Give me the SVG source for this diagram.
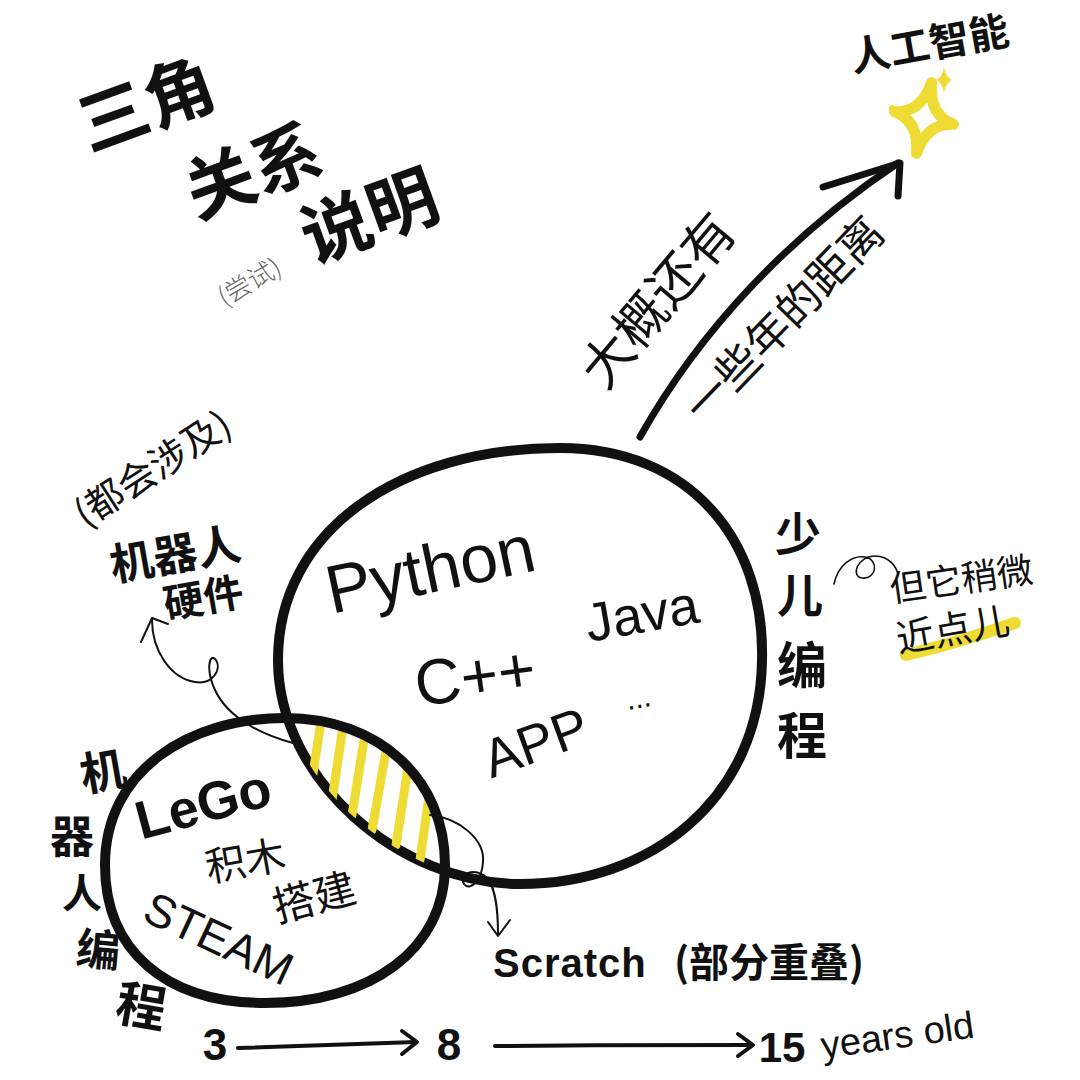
<svg xmlns="http://www.w3.org/2000/svg" width="1080" height="1080" viewBox="0 0 1080 1080">
<defs>
<style>
.cjk{font-family:"Noto Sans CJK SC","Noto Sans",sans-serif;fill:#111}
.lat{font-family:"Liberation Sans","DejaVu Sans",sans-serif;fill:#111}
.b{font-weight:700}
.thin{font-weight:300}
.ln{fill:none;stroke:#111;stroke-linecap:round;stroke-linejoin:round}
.yel{fill:none;stroke:#eedc34;stroke-linecap:round;stroke-linejoin:round}
</style>
<clipPath id="clipSmall"><path d="M 105 865 C 105 770 190 718 285 718 C 380 718 445 780 445 865 C 445 950 370 1003 265 1003 C 165 1003 105 950 105 865 Z"/></clipPath>
<clipPath id="clipBig"><path d="M 278 660 C 278 530 400 448 560 448 C 690 448 765 540 762 660 C 760 800 650 884 520 884 C 400 884 278 780 278 660 Z"/></clipPath>
</defs>
<rect width="1080" height="1080" fill="#ffffff"/>

<g id="title">
<text class="cjk b" font-size="70" text-anchor="middle" transform="translate(155,128) rotate(-20)">三角</text>
<text class="cjk b" font-size="70" text-anchor="middle" transform="translate(262,195) rotate(-20)">关系</text>
<text class="cjk b" font-size="70" text-anchor="middle" transform="translate(378,240) rotate(-20)">说明</text>
<text class="cjk thin" font-size="26" style="fill:#666" text-anchor="middle" transform="translate(254,290) rotate(-30)">(尝试)</text>
</g>

<g id="ai">
<text class="cjk b" font-size="40" text-anchor="middle" transform="translate(932,58) rotate(-10)">人工智能</text>
<path class="yel" stroke-width="11" transform="translate(924,118) rotate(12)" d="M 0 -36 Q 4 -4 30 0 Q 4 4 0 36 Q -4 4 -30 0 Q -4 -4 0 -36 Z"/>
<path fill="#eedc34" transform="translate(944,80)" d="M 0 -13 Q 2 -2 8 0 Q 2 2 0 13 Q -2 2 -8 0 Q -2 -2 0 -13 Z"/>
<circle cx="892" cy="108" r="3" fill="#eedc34"/>
</g>

<g id="distance">
<text class="cjk" font-size="52" text-anchor="middle" transform="translate(672,312) rotate(-50)">大概还有</text>
<text class="cjk" font-size="44" text-anchor="middle" transform="translate(795,330) rotate(-46)">一些年的距离</text>
</g>

<g id="hardware">
<text class="cjk" font-size="38" text-anchor="middle" transform="translate(160,480) rotate(-33)">(都会涉及)</text>
<text class="cjk b" font-size="44" text-anchor="middle" transform="translate(178,570) rotate(-10)">机器人</text>
<text class="cjk b" font-size="40" text-anchor="middle" transform="translate(206,612) rotate(-10)">硬件</text>
</g>

<g id="big-circle">
<path class="ln" stroke-width="10" d="M 278 660 C 278 530 400 448 560 448 C 690 448 765 540 762 660 C 760 800 650 884 520 884 C 400 884 278 780 278 660 Z"/>
<text class="lat" font-size="68" text-anchor="middle" transform="translate(435,592) rotate(-12)">Python</text>
<text class="lat" font-size="64" text-anchor="middle" transform="translate(478,698) rotate(-8)">C++</text>
<text class="lat" font-size="54" text-anchor="middle" transform="translate(645,632) rotate(-10)">Java</text>
<text class="lat" font-size="54" text-anchor="middle" transform="translate(542,760) rotate(-20)">APP</text>
<text class="lat" font-size="30" text-anchor="middle" transform="translate(640,708) rotate(-10)">...</text>
</g>

<g id="kids-coding">
<text class="cjk b" font-size="46" text-anchor="middle" x="798" y="550">少</text>
<text class="cjk b" font-size="46" text-anchor="middle" x="800" y="612">儿</text>
<text class="cjk b" font-size="50" text-anchor="middle" x="802" y="684">编</text>
<text class="cjk b" font-size="50" text-anchor="middle" x="802" y="754">程</text>
</g>

<g id="note">
<text class="cjk" font-size="36" text-anchor="middle" transform="translate(963,592) rotate(-8)">但它稍微</text>
<path class="yel" stroke-width="12" d="M 906 655 Q 960 642 1015 623"/>
<text class="cjk" font-size="38" text-anchor="middle" transform="translate(955,643) rotate(-10)">近点儿</text>
</g>

<g id="small-circle">
<g clip-path="url(#clipSmall)"><g clip-path="url(#clipBig)">
<g class="yel" stroke-width="9">
<path d="M 322 715 L 312 780"/>
<path d="M 344 720 L 332 800"/>
<path d="M 366 728 L 352 815"/>
<path d="M 388 740 L 372 830"/>
<path d="M 410 755 L 396 845"/>
<path d="M 432 775 L 420 860"/>
</g>
</g></g>
<path class="ln" stroke-width="10" d="M 105 865 C 105 770 190 718 285 718 C 380 718 445 780 445 865 C 445 950 370 1003 265 1003 C 165 1003 105 950 105 865 Z"/>
<text class="lat b" font-size="54" text-anchor="middle" transform="translate(208,822) rotate(-15)">LeGo</text>
<text class="cjk" font-size="40" text-anchor="middle" transform="translate(248,875) rotate(-10)">积木</text>
<text class="cjk" font-size="42" text-anchor="middle" transform="translate(318,912) rotate(-15)">搭建</text>
<text class="lat" font-size="46" text-anchor="middle" transform="translate(212,953) rotate(25)">STEAM</text>
</g>

<g id="robot-coding">
<text class="cjk b" font-size="46" text-anchor="middle" transform="translate(106,788) rotate(-10)">机</text>
<text class="cjk b" font-size="44" text-anchor="middle" transform="translate(72,853)">器</text>
<text class="cjk b" font-size="40" text-anchor="middle" transform="translate(82,908)">人</text>
<text class="cjk b" font-size="44" text-anchor="middle" transform="translate(97,966) rotate(5)">编</text>
<text class="cjk b" font-size="50" text-anchor="middle" transform="translate(138,1024) rotate(10)">程</text>
</g>

<g id="scratch">
<text class="lat b" font-size="40" letter-spacing="1" x="493" y="977">Scratch</text>
<text class="cjk b" font-size="40" x="674" y="977">(部分重叠)</text>
</g>

<g id="ages">
<text class="lat b" font-size="44" text-anchor="middle" x="215" y="1060">3</text>
<text class="lat b" font-size="44" text-anchor="middle" x="449" y="1060">8</text>
<text class="lat b" font-size="42" text-anchor="middle" x="782" y="1062">15</text>
<text class="lat" font-size="38" text-anchor="middle" transform="translate(899,1048) rotate(-8)">years old</text>
</g>

<g id="connectors">
<path class="ln" stroke-width="7" d="M 640 437 C 700 330 790 235 898 163"/>
<path class="ln" stroke-width="7" d="M 823 187 L 900 163 L 898 196"/>
<path class="ln" stroke-width="2" d="M 293 743 C 262 735 228 718 215 690 C 205 668 210 652 216 660 C 222 670 212 685 195 682 C 170 678 152 650 152 620"/>
<path class="ln" stroke-width="2" d="M 141 642 L 152 618 L 168 624"/>
<path class="ln" stroke-width="2" d="M 430 815 C 460 818 485 840 483 862 C 482 880 470 892 464 884 C 458 874 475 866 487 878 C 497 890 498 915 498 935"/>
<path class="ln" stroke-width="2" d="M 488 922 L 498 936 L 510 920"/>
<path class="ln" stroke-width="1.6" d="M 834 584 C 838 565 852 555 865 557 C 880 560 876 580 862 578 C 850 576 858 556 875 556 C 890 556 897 568 898 575"/>
<path class="ln" stroke-width="4" d="M 238 1048 C 300 1046 360 1044 416 1042"/>
<path class="ln" stroke-width="4" d="M 402 1031 L 417 1042 L 402 1054"/>
<path class="ln" stroke-width="4" d="M 495 1046 C 580 1045 670 1045 752 1045"/>
<path class="ln" stroke-width="4" d="M 738 1034 L 753 1045 L 738 1056"/>
</g>
</svg>
